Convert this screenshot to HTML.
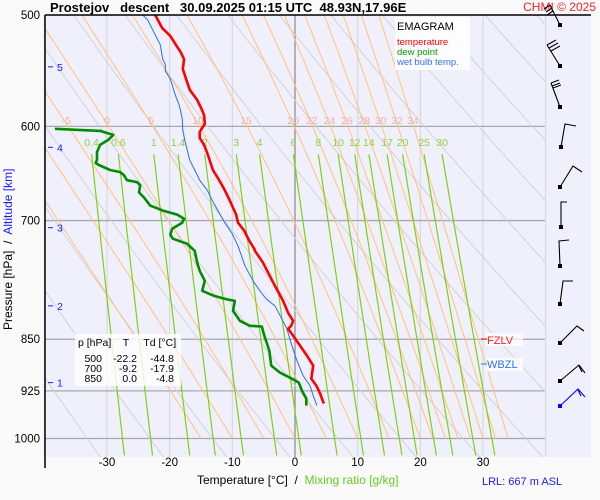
<!DOCTYPE html>
<html><head><meta charset="utf-8">
<style>
body{margin:0;background:#fafafa;}
svg{display:block;font-family:"Liberation Sans",Arial,sans-serif;}
</style></head>
<body>
<svg id="chart" width="600" height="500" viewBox="0 0 600 500">
<rect x="0" y="0" width="600" height="500" fill="#fafafa"/>
<rect x="45" y="15" width="546" height="442" fill="#f0f0fd"/>
<defs><clipPath id="clipPlot"><rect x="45" y="15" width="500" height="442"/></clipPath>
<clipPath id="clipMoist"><rect x="45" y="15" width="500" height="423.5"/></clipPath></defs>
<g id="grid"></g>
<g id="dry" clip-path="url(#clipPlot)"></g>
<g id="moist" clip-path="url(#clipMoist)"></g>
<g id="mix" clip-path="url(#clipPlot)"></g>
<g id="labels"></g>
<g id="series"></g>
<line x1="45" y1="15" x2="591" y2="15" stroke="#000" stroke-width="1.5"/>
<line x1="45" y1="15" x2="45" y2="468" stroke="#000" stroke-width="1.5"/>
<text x="50" y="12" font-size="13" font-weight="bold" fill="#000" xml:space="preserve">Prostejov   descent   30.09.2025 01:15 UTC  48.93N,17.96E</text>
<text x="596" y="11" font-size="12" fill="#ff2020" text-anchor="end">CHMI © 2025</text>
<g>
<rect x="395" y="17" width="75" height="53" fill="#ffffff" opacity="0.85"/>
<text x="397" y="30" font-size="11" fill="#000">EMAGRAM</text>
<text x="397" y="45" font-size="9.5" fill="#ff0000">temperature</text>
<text x="397" y="55" font-size="9.5" fill="#00a000">dew point</text>
<text x="397" y="65" font-size="9.5" fill="#3070ff">wet bulb temp.</text>
</g>
<g>
<rect x="75" y="334" width="106" height="52" fill="#ffffff" opacity="0.8"/>
<text x="78" y="346" font-size="10.5" xml:space="preserve">p [hPa]    T     Td [°C]</text>
<g font-size="10.5" text-anchor="end">
<text x="102" y="362">500</text><text x="137" y="362">-22.2</text><text x="174" y="362">-44.8</text>
<text x="102" y="372">700</text><text x="137" y="372">-9.2</text><text x="174" y="372">-17.9</text>
<text x="102" y="382">850</text><text x="137" y="382">0.0</text><text x="174" y="382">-4.8</text>
</g></g>
<g>
<rect x="486" y="333" width="37" height="13" fill="#fff" opacity="0.7"/>
<line x1="481" y1="339" x2="487" y2="339" stroke="#ff0000"/>
<text x="487" y="344" font-size="11" fill="#ff2020">FZLV</text>
<rect x="486" y="358" width="37" height="13" fill="#fff" opacity="0.7"/>
<line x1="481" y1="364" x2="487" y2="364" stroke="#3070ff"/>
<text x="487" y="368" font-size="11" fill="#3070ff">WBZL</text>
</g>
<g fill="none" stroke="#000" stroke-width="1.1">
<path d="M560,25 L550,5 M550,5 l-6,4 M552,8 l-6,4 M553,11 l-6,4"/>
<path d="M560,66 L547,45 M547,45 l9,-5 M549,48 l9,-5 M551,51 l9,-5"/>
<path d="M560,107 L551,83 M551,83 l8,-3 M552,86 l8,-3 M553,88 l8,-3"/>
<path d="M561,147 L565,124 L576,126"/>
<path d="M560,187 L573,166 L582,172"/>
<path d="M561,227 L561,202 L567,202"/>
<path d="M560,266 L559,241 L569,240"/>
<path d="M560,304 L563,281 L573,281"/>
<path d="M560,343 L577,326 L584,331"/>
<path d="M560,381 L579,365 L585,373 M579,366 L582,372"/>
<path d="M560,406 L578,389 L585,397 M578,390 L581,396" stroke="#0000ff"/>
</g>
<g fill="#000"><rect x="558" y="23" width="4" height="4"/><rect x="558" y="64" width="4" height="4"/><rect x="558" y="105" width="4" height="4"/><rect x="559" y="145" width="4" height="4"/><rect x="558" y="185" width="4" height="4"/><rect x="559" y="225" width="4" height="4"/><rect x="558" y="264" width="4" height="4"/><rect x="558" y="302" width="4" height="4"/><rect x="558" y="341" width="4" height="4"/><rect x="558" y="379" width="4" height="4"/><rect x="558" y="404" width="4" height="4" fill="#0000ff"/></g>
<text transform="translate(12,330) rotate(-90)" font-size="12" xml:space="preserve"><tspan fill="#000">Pressure [hPa]  /  </tspan><tspan fill="#1a1aff">Altitude [km]</tspan></text>
<text x="197" y="484" font-size="12" xml:space="preserve"><tspan fill="#000">Temperature [°C]  /  </tspan><tspan fill="#66cc22">Mixing ratio [g/kg]</tspan></text>
<text x="482" y="485" font-size="11" fill="#1a1aff">LRL: 667 m ASL</text>
<g id="axes"></g>
</svg>
<script>
const redP=[500,510.7,517.4,525,531.7,537.6,546.2,555,565,574.6,582,589,597.5,605.4,611.4,618.4,628.7,644.4,655.2,666.2,677.4,693.2,702.4,711.7,723.5,733.1,735.5,750,778.9,798.3,814.1,824.8,831.6,835.7,845,858.9,873.1,887.5,906.7,917.1,929.2,944.5];
const redT=[-22.3,-21.2,-19.9,-19.0,-18.2,-17.7,-17.9,-17.4,-16.8,-15.6,-15.0,-14.5,-14.4,-15.2,-15.2,-14.5,-13.9,-13.1,-12.1,-11.2,-10.4,-9.4,-9.1,-8.1,-7.3,-6.5,-6.4,-5.1,-3.2,-1.9,-1.1,-0.3,-0.6,-1.1,-0.3,0.8,1.9,2.9,2.6,3.4,4.0,4.6];
const dewP=[602.4,604.4,608.4,613.4,618.4,625.6,633.9,637,639.1,644.4,646.6,649.8,655.2,657.4,660.7,668.4,674,683,688.6,693.2,697.8,702.4,709.4,716.4,721.1,727.1,735.5,750,760,772.5,785.3,791.8,795.7,798.3,811.4,824.8,831.6,832.5,845,866,887.5,897.8,906.7,912.6,924.6,936.8,947.6];
const dewT=[-38.3,-31.1,-29.0,-29.8,-31.1,-31.6,-31.6,-31.8,-31.3,-29.5,-27.9,-27.3,-26.8,-25.2,-24.7,-24.9,-24.1,-23.1,-21.1,-18.8,-17.7,-18.0,-19.6,-19.9,-19.5,-17.2,-16.0,-15.6,-15.2,-14.4,-14.8,-12.9,-11.2,-9.6,-9.9,-8.8,-7.2,-5.3,-4.9,-4.1,-3.8,-2.4,-0.5,0.6,1.1,1.8,1.8];
const wbP=[500,504,516.5,525,537.6,541.9,548,555,570,579.2,591.8,603.4,613.4,623.5,633.9,644.4,655.2,666.2,677.4,688.6,702.4,714.1,729.5,753.7,772.5,785.3,795.7,804.8,822.1,835.7,858.9,880.3,902.2,917.1,932.2,947.6];
const wbT=[-24.3,-23.5,-22.3,-21.5,-21.1,-20.7,-20.7,-19.9,-19.1,-18.5,-18.0,-17.9,-17.6,-17.2,-16.8,-16.0,-15.2,-14.0,-13.2,-12.3,-11.2,-10.1,-9.1,-8.0,-6.7,-5.6,-4.6,-3.2,-2.1,-1.3,-0.5,0.3,1.3,2.4,2.9,3.5];
const tempTicks=[-30,-20,-10,0,10,20,30];
const isotherms=[-40,-30,-20,-10,0,10,20,30,40];
const pressureTicks=[500,600,700,850,925,1000];
const altitudeTicks=[1,2,3,4,5];
const altitudeP=[912.6,804.8,708.2,620.9,544.3];
const thetaW=[-15,-10,-5,0,5,10,15,20,22,24,26,28,30,32,34];
const thetaWLabels=[-5,0,5,10,15,20,22,24,26,28,30,32,34];
const mixRatios=[0.4,0.6,1,1.4,2,3,4,6,8,10,12,14,17,20,25,30];
const dryTheta=[240,250,260,270,280,290,300,310,320,330,340,350,360,370,380,390,400,410,420,430];

const NS='http://www.w3.org/2000/svg';
function xT(t){return 295+6.267*t;}
function yP(p){return 15+611*Math.log(p/500);}
function mk(tag,attrs,parent){const e=document.createElementNS(NS,tag);for(const k in attrs)e.setAttribute(k,attrs[k]);parent.appendChild(e);return e;}
function pts(P,T){return P.map((p,i)=>xT(T[i]).toFixed(1)+','+yP(p).toFixed(1)).join(' ');}
const grid=document.getElementById('grid'),axes=document.getElementById('axes');
isotherms.forEach(t=>{
  const l=mk('line',{x1:xT(t),x2:xT(t),y1:15,y2:457,stroke:t===0?'#909090':'#d4d4d8','stroke-width':t===0?1.3:1},grid);
  
  
});
pressureTicks.slice(1).forEach(p=>{
  const l=mk('line',{x1:45,x2:545,y1:yP(p),y2:yP(p),stroke:'#a8a8a8','stroke-width':1.3},grid);
  
  
});
const dry=document.getElementById('dry');
dryTheta.forEach(th=>{
  const a=[];for(let p=480;p<=1040;p+=10){const t=th*Math.pow(p/1000,0.286)-273.15;a.push(xT(t).toFixed(1)+','+yP(p).toFixed(1));}
  const l=mk('polyline',{points:a.join(' '),fill:'none',stroke:'#d2d2d6','stroke-width':1},dry);
  
  
});
function es(tc){return 6.112*Math.exp(17.67*tc/(tc+243.5));}
const moist=document.getElementById('moist');
thetaW.forEach(tw=>{
  let T=tw+273.15,lp=Math.log(1000);const a=[xT(tw).toFixed(1)+','+yP(1000).toFixed(1)];
  const step=-0.005;
  while(lp>Math.log(490)){
    const p=Math.exp(lp),e=es(T-273.15),rs=0.622*e/(p-e);
    const d=(287*T+2.5e6*rs)/(1004+2.5e6*2.5e6*rs*0.622/(287*T*T));
    T+=d*step;lp+=step;
    a.push(xT(T-273.15).toFixed(1)+','+yP(Math.exp(lp)).toFixed(1));
  }
  const l=mk('polyline',{points:a.join(' '),fill:'none',stroke:'#ffc27a','stroke-width':1},moist);
  
  
});
function tdOf(w,p){const e=w/1000*p/(0.622+w/1000);const L=Math.log(e/6.112);return 243.5*L/(17.67-L);}
const mix=document.getElementById('mix'),labels=document.getElementById('labels');
mixRatios.forEach(w=>{
  const a=[];for(let p=628;p<=1035;p+=8){a.push(xT(tdOf(w,p)).toFixed(1)+','+yP(p).toFixed(1));}
  const l=mk('polyline',{points:a.join(' '),fill:'none',stroke:'#80d010','stroke-width':1.2},mix);
  
  
  const t=mk('text',{x:xT(tdOf(w,628)),y:146,'font-size':10.5,fill:'#90d040','text-anchor':'middle'},labels);
  t.textContent=w;
  
  
});
thetaWLabels.forEach(tw=>{
  let T=tw+273.15,lp=Math.log(1000);const step=-0.005;
  while(lp>Math.log(600)){const p=Math.exp(lp),e=es(T-273.15),rs=0.622*e/(p-e);
    const d=(287*T+2.5e6*rs)/(1004+2.5e6*2.5e6*rs*0.622/(287*T*T));T+=d*step;lp+=step;}
  const t=mk('text',{x:xT(T-273.15),y:124,'font-size':10.5,fill:'#f4b0a0','text-anchor':'middle'},labels);
  t.textContent=tw;
  
  
});
const series=document.getElementById('series');
const wb=mk('polyline',{points:pts(wbP,wbT),fill:'none',stroke:'#2a6cf0','stroke-width':1},series);


const dw=mk('polyline',{points:pts(dewP,dewT),fill:'none',stroke:'#008c00','stroke-width':2.6,'stroke-linejoin':'round'},series);


const rd=mk('polyline',{points:pts(redP,redT),fill:'none',stroke:'#ff0000','stroke-width':2.6,'stroke-linejoin':'round'},series);


tempTicks.forEach(t=>{
  const e=mk('text',{x:xT(t),y:466,'font-size':11.5,'text-anchor':'middle',fill:'#000'},axes);
  e.textContent=t;
  
  
});
pressureTicks.forEach(p=>{
  const e=mk('text',{x:40,y:yP(p)+4,'font-size':11.5,'text-anchor':'end',fill:'#000'},axes);
  e.textContent=p;
  
  
});
altitudeTicks.forEach((k,i)=>{
  const y=yP(altitudeP[i]);
  mk('line',{x1:48,x2:53,y1:y,y2:y,stroke:'#1a1aff','stroke-width':1},axes);
  const e=mk('text',{x:57,y:y+4,'font-size':10.5,fill:'#1a1aff'},axes);
  e.textContent=k;
  
  
});
</script>
</body></html>
